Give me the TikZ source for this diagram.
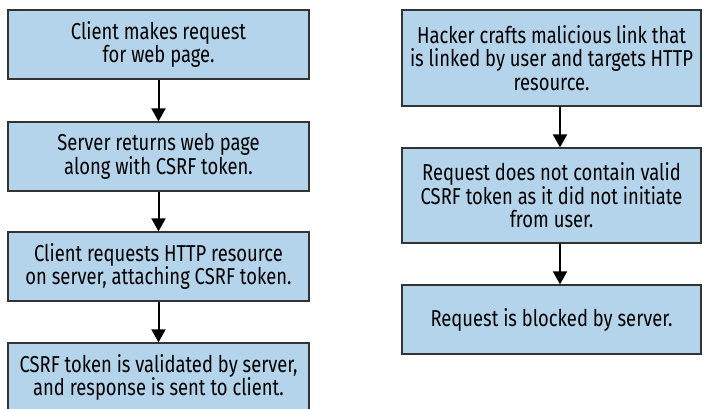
\documentclass[tikz,border=0pt]{standalone}
\usepackage{fontspec}
\setmainfont{Fira Sans}[FakeStretch=0.8]
\usetikzlibrary{arrows.meta}
\definecolor{boxfill}{HTML}{B3D4EA}
\definecolor{boxline}{HTML}{333333}
\tikzset{
  flowbox/.style={draw=boxline, line width=1.3pt, fill=boxfill, minimum height=#1, align=center,
    font=\fontsize{23}{23.5}\selectfont, inner sep=0pt},
  leftbox/.style={flowbox=69pt, minimum width=301pt},
  rightbox/.style={flowbox=#1, minimum width=299pt},
  arr/.style={draw=black, line width=2pt, -{Triangle[width=14pt,length=13pt]}}
}
\begin{document}
\begin{tikzpicture}[x=1pt,y=1pt]
\useasboundingbox (0,0) rectangle (704,-408);
\clip (0,0) rectangle (704,-408);
\node[leftbox] (L1) at (158.5,-44.5) {Client makes request\\for web page.};
\node[leftbox] (L2) at (158.5,-156.5) {Server returns web page\\along with CSRF token.};
\node[leftbox] (L3) at (158.5,-266.5) {Client requests HTTP resource\\on server, attaching CSRF token.};
\node[leftbox] (L4) at (158.5,-377.5) {CSRF token is validated by server,\\and response is sent to client.};
\node[rightbox=96pt] (R1) at (551.5,-58) {Hacker crafts malicious link that\\is linked by user and targets HTTP\\resource.};
\node[rightbox=95pt] (R2) at (551.5,-195.5) {Request does not contain valid\\CSRF token as it did not initiate\\from user.};
\node[rightbox=69pt] (R3) at (551.5,-319.5) {Request is blocked by server.};
\draw[arr] (L1.south) -- (L2.north);
\draw[arr] (L2.south) -- (L3.north);
\draw[arr] (L3.south) -- (L4.north);
\draw[arr] ([xshift=8.5pt]R1.south) -- ([xshift=8.5pt]R2.north);
\draw[arr] ([xshift=8.5pt]R2.south) -- ([xshift=8.5pt]R3.north);
\end{tikzpicture}
\end{document}
